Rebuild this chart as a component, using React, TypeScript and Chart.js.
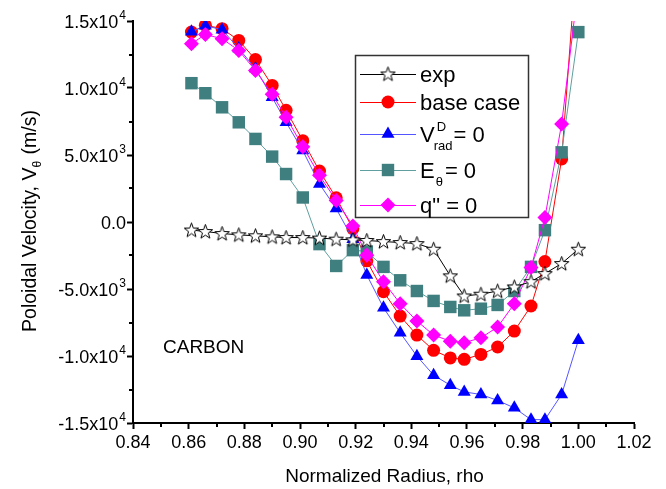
import React, { useEffect, useRef } from 'react';
import { Chart, registerables } from 'chart.js';

Chart.register(...registerables);

// ---------- data ----------
const rho = [0.861, 0.866, 0.872, 0.878, 0.884, 0.890, 0.895, 0.901, 0.907, 0.913, 0.919, 0.924, 0.930,
  0.936, 0.942, 0.948, 0.954, 0.959, 0.965, 0.971, 0.977, 0.983, 0.988, 0.994, 1.000];

const expVals = [-600, -710, -860, -960, -1030, -1110, -1160, -1160, -1200, -1280, -1330, -1380, -1460,
  -1530, -1610, -2030, -4020, -5520, -5390, -5150, -4850, -4450, -3850, -3100, -2030];

const baseCase = [14170, 14680, 14430, 13550, 12120, 10190, 8340, 6070, 3800, 1810, -500, -2900, -5200,
  -7020, -8440, -9580, -10140, -10250, -9880, -9330, -8140, -6270, -2950, 4700, 21500];

const vradZero = [14200, 14650, 14350, 12950, 11450, 9310, 7440, 5330, 2840, 1000, -1280, -3950, -6400,
  -8270, -10010, -11430, -12180, -12680, -12870, -13320, -13870, -14750, -14750, -12870, -8830];

const eThetaZero = [10360, 9610, 8560, 7440, 6200, 4880, 3580, 1830, -1650, -3280, -2100, -2200, -3350,
  -4350, -5150, -5890, -6340, -6590, -6470, -6190, -5150, -3350, -610, 5200, 14170];

const qZero = [13310, 13990, 13680, 12800, 11310, 9540, 7820, 5620, 3480, 1610, -300, -2490, -4450,
  -6100, -7390, -8440, -8890, -9010, -8640, -7840, -6100, -3400, 340, 7320, 17600];

const xTickLabels = ['0.84', '0.86', '0.88', '0.90', '0.92', '0.94', '0.96', '0.98', '1.00', '1.02'];
const xMinorTicks = [0.85, 0.87, 0.89, 0.91, 0.93, 0.95, 0.97, 0.99, 1.01];
const yTickValues = [15000, 10000, 5000, 0, -5000, -10000, -15000];
const yTickMantissa = ['1.5x10', '1.0x10', '5.0x10', '0.0', '-5.0x10', '-1.0x10', '-1.5x10'];
const yTickExponent = ['4', '4', '3', '', '3', '4', '4'];
const yMinorTicks = [12500, 7500, 2500, -2500, -7500, -12500];

const FONT = '"Liberation Sans", Arial, Helvetica, sans-serif';

const RED = '#ff0000';
const BLUE = '#0000ff';
const TEAL = '#3f7f7f';
const MAGENTA = '#ff00ff';

function makeStar(): HTMLCanvasElement {
  const c = document.createElement('canvas');
  c.width = 17;
  c.height = 17;
  const g = c.getContext('2d')!;
  const cx = 8.5, cy = 9, R = 7.6, r = 3.1;
  g.beginPath();
  for (let i = 0; i < 10; i++) {
    const a = -Math.PI / 2 + (i * Math.PI) / 5;
    const rr = i % 2 === 0 ? R : r;
    const x = cx + Math.cos(a) * rr;
    const y = cy + Math.sin(a) * rr;
    if (i === 0) g.moveTo(x, y); else g.lineTo(x, y);
  }
  g.closePath();
  g.fillStyle = '#fff';
  g.fill();
  g.strokeStyle = '#000';
  g.lineWidth = 1;
  g.stroke();
  return c;
}

function drawMarker(ctx: CanvasRenderingContext2D, kind: string, x: number, y: number, color: string, star?: HTMLCanvasElement) {
  ctx.save();
  ctx.fillStyle = color;
  ctx.strokeStyle = color;
  ctx.beginPath();
  if (kind === 'circle') {
    ctx.arc(x, y, 6.5, 0, Math.PI * 2);
  } else if (kind === 'triangle') {
    const r = 7.5;
    ctx.moveTo(x, y - r);
    ctx.lineTo(x + 0.866 * r, y + 0.5 * r);
    ctx.lineTo(x - 0.866 * r, y + 0.5 * r);
    ctx.closePath();
  } else if (kind === 'rect') {
    ctx.rect(x - 6.2, y - 6.2, 12.4, 12.4);
  } else if (kind === 'diamond') {
    const r = 7.5;
    ctx.moveTo(x, y - r);
    ctx.lineTo(x + r, y);
    ctx.lineTo(x, y + r);
    ctx.lineTo(x - r, y);
    ctx.closePath();
  } else if (kind === 'star' && star) {
    ctx.drawImage(star, x - star.width / 2, y - star.height / 2);
    ctx.restore();
    return;
  }
  ctx.fill();
  ctx.restore();
}

function makePlugin(star: HTMLCanvasElement) {
  return {
    id: 'customDecor',
    afterDraw(chart: any) {
      const ctx: CanvasRenderingContext2D = chart.ctx;
      const xs = chart.scales.x;
      const ys = chart.scales.y;
      ctx.save();

      // minor ticks
      ctx.strokeStyle = '#000';
      ctx.lineWidth = 2;
      ctx.beginPath();
      xMinorTicks.forEach((v) => {
        const px = Math.round(xs.getPixelForValue(v));
        ctx.moveTo(px, xs.top);
        ctx.lineTo(px, xs.top + 4);
      });
      yMinorTicks.forEach((v) => {
        const py = Math.round(ys.getPixelForValue(v));
        ctx.moveTo(ys.right, py);
        ctx.lineTo(ys.right - 4, py);
      });
      ctx.stroke();

      // y tick labels with superscripts
      ctx.fillStyle = '#000';
      ctx.textBaseline = 'alphabetic';
      yTickValues.forEach((v, i) => {
        const py = ys.getPixelForValue(v);
        const rightEdge = ys.right - 7;
        ctx.font = `18px ${FONT}`;
        const mw = ctx.measureText(yTickMantissa[i]).width;
        ctx.font = `12px ${FONT}`;
        const ew = yTickExponent[i] ? ctx.measureText(yTickExponent[i]).width + 1 : 0;
        const startX = rightEdge - ew - mw;
        ctx.font = `18px ${FONT}`;
        ctx.textAlign = 'left';
        ctx.fillText(yTickMantissa[i], startX, py + 6.5);
        if (yTickExponent[i]) {
          ctx.font = `12px ${FONT}`;
          ctx.fillText(yTickExponent[i], startX + mw + 1, py - 2);
        }
      });

      // y axis title (rotated)
      ctx.save();
      ctx.translate(29, 221);
      ctx.rotate(-Math.PI / 2);
      const p1 = 'Poloidal Velocity, V';
      const p2 = '\u03b8';
      const p3 = ' (m/s)';
      ctx.font = `19.5px ${FONT}`;
      const w1 = ctx.measureText(p1).width;
      const w3 = ctx.measureText(p3).width;
      ctx.font = `12px ${FONT}`;
      const w2 = ctx.measureText(p2).width + 1;
      const total = w1 + w2 + w3;
      let cx = -total / 2;
      ctx.textAlign = 'left';
      ctx.font = `19.5px ${FONT}`;
      ctx.fillText(p1, cx, 7);
      cx += w1;
      ctx.font = `12px ${FONT}`;
      ctx.fillText(p2, cx, 12);
      cx += w2;
      ctx.font = `19.5px ${FONT}`;
      ctx.fillText(p3, cx, 7);
      ctx.restore();

      // x axis title
      ctx.font = `19px ${FONT}`;
      ctx.textAlign = 'center';
      ctx.textBaseline = 'middle';
      ctx.fillText('Normalized Radius, rho', (xs.left + xs.right) / 2 + 1, 477);

      // annotation
      ctx.font = `19px ${FONT}`;
      ctx.textAlign = 'left';
      ctx.textBaseline = 'alphabetic';
      ctx.fillText('CARBON', 163, 353);

      // legend box
      const bx = 355, by = 55, bw = 173, bh = 162;
      ctx.fillStyle = '#fff';
      ctx.fillRect(bx, by, bw, bh);
      ctx.strokeStyle = '#333';
      ctx.lineWidth = 1.5;
      ctx.strokeRect(bx + 0.5, by + 0.5, bw, bh);

      const rows = [
        { y: 74, line: '#000', kind: 'star', color: '#000' },
        { y: 102, line: RED, kind: 'circle', color: RED },
        { y: 134, line: '#5555ff', kind: 'triangle', color: BLUE },
        { y: 170, line: '#5f9f9f', kind: 'rect', color: TEAL },
        { y: 205, line: MAGENTA, kind: 'diamond', color: MAGENTA },
      ];
      rows.forEach((r) => {
        ctx.strokeStyle = r.line;
        ctx.lineWidth = 1;
        ctx.beginPath();
        ctx.moveTo(360, r.y + 0.5);
        ctx.lineTo(416, r.y + 0.5);
        ctx.stroke();
        drawMarker(ctx, r.kind, 388, r.y, r.color, star);
      });

      ctx.fillStyle = '#000';
      ctx.textAlign = 'left';
      ctx.textBaseline = 'alphabetic';
      const big = `22px ${FONT}`;
      const small = `13px ${FONT}`;
      ctx.font = big;
      ctx.fillText('exp', 420, 82);
      ctx.fillText('base case', 420, 110);
      // V^D_rad= 0
      ctx.fillText('V', 420, 142);
      const vx = 420 + ctx.measureText('V').width + 1;
      ctx.font = small;
      ctx.fillText('D', vx + 1, 131);
      ctx.fillText('rad', vx - 2, 150);
      const subW = Math.max(ctx.measureText('D').width + 1, ctx.measureText('rad').width - 2);
      ctx.font = big;
      ctx.fillText('= 0', vx + subW + 1, 142);
      // E_theta= 0
      ctx.fillText('E', 420, 178);
      const ex = 420 + ctx.measureText('E').width + 1;
      ctx.font = small;
      ctx.fillText('\u03b8', ex, 186);
      const thW = ctx.measureText('\u03b8').width;
      ctx.font = big;
      ctx.fillText('= 0', ex + thW + 2, 178);
      ctx.fillText('q" = 0', 420, 213);

      ctx.restore();
    },
  };
}

export default function App() {
  const canvasRef = useRef<HTMLCanvasElement | null>(null);

  useEffect(() => {
    if (!canvasRef.current) return;
    const star = makeStar();
    const pts = (vals: number[]) => rho.map((x, i) => ({ x, y: vals[i] }));

    Chart.defaults.font.family = FONT;
    Chart.defaults.color = '#000';

    const chart = new Chart(canvasRef.current, {
      type: 'scatter',
      data: {
        datasets: [
          {
            label: 'exp',
            data: pts(expVals),
            showLine: true,
            borderColor: '#000',
            borderWidth: 1,
            pointStyle: star as any,
            pointRadius: 7,
            order: 0,
          },
          {
            label: 'q" = 0',
            data: pts(qZero),
            showLine: true,
            borderColor: MAGENTA,
            backgroundColor: MAGENTA,
            borderWidth: 1,
            pointStyle: 'rectRot',
            pointRadius: 7.5,
            pointBorderWidth: 0,
            pointBackgroundColor: MAGENTA,
            order: 1,
          },
          {
            label: 'E = 0',
            data: pts(eThetaZero),
            showLine: true,
            borderColor: '#5f9f9f',
            backgroundColor: TEAL,
            borderWidth: 1,
            pointStyle: 'rect',
            pointRadius: 8.8,
            pointBorderWidth: 0,
            pointBackgroundColor: TEAL,
            order: 2,
          },
          {
            label: 'V = 0',
            data: pts(vradZero),
            showLine: true,
            borderColor: '#5555ff',
            backgroundColor: BLUE,
            borderWidth: 1,
            pointStyle: 'triangle',
            pointRadius: 7.5,
            pointBorderWidth: 0,
            pointBackgroundColor: BLUE,
            order: 3,
          },
          {
            label: 'base case',
            data: pts(baseCase),
            showLine: true,
            borderColor: RED,
            backgroundColor: RED,
            borderWidth: 1,
            pointStyle: 'circle',
            pointRadius: 6.5,
            pointBorderWidth: 0,
            pointBackgroundColor: RED,
            order: 4,
          },
        ],
      },
      options: {
        responsive: false,
        animation: false,
        layout: { padding: { left: 0, top: 21, right: 32, bottom: 0 } },
        plugins: {
          legend: { display: false },
          tooltip: { enabled: false },
        },
        scales: {
          x: {
            type: 'linear',
            min: 0.84,
            max: 1.02,
            afterFit: (s: any) => { s.height = 66; },
            border: { display: true, color: '#000', width: 2 },
            grid: { drawOnChartArea: false, drawTicks: true, tickLength: 6, tickWidth: 2, tickColor: '#000' },
            ticks: {
              stepSize: 0.02,
              autoSkip: false,
              maxRotation: 0,
              padding: 3,
              font: { size: 18, family: FONT },
              color: '#000',
              callback: (v: any) => {
                const s = Number(v).toFixed(2);
                return xTickLabels.includes(s) ? s : '';
              },
            },
          },
          y: {
            type: 'linear',
            min: -15000,
            max: 15000,
            afterFit: (s: any) => { s.width = 133; },
            border: { display: true, color: '#000', width: 2 },
            grid: { drawOnChartArea: false, drawTicks: true, tickLength: 6, tickWidth: 2, tickColor: '#000' },
            ticks: { stepSize: 5000, display: false },
          },
        },
      },
      plugins: [makePlugin(star)],
    } as any);

    return () => chart.destroy();
  }, []);

  return (
    <div style={{ position: 'absolute', left: 0, top: 0, width: 666, height: 489, background: '#fff' }}>
      <canvas ref={canvasRef} width={666} height={489} />
    </div>
  );
}
